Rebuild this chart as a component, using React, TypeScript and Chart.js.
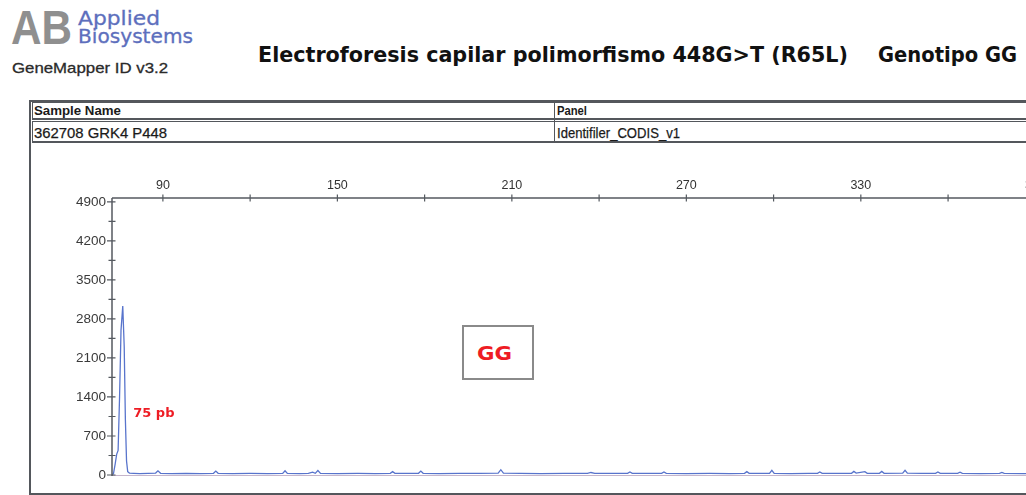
import React, { useEffect, useLayoutEffect, useRef } from "react";
import { Chart, registerables } from "chart.js";

Chart.register(...registerables);

// ---------- data ----------
const sizesBp = [
  72.5, 73.0, 73.6, 74.1, 74.6, 75.1, 75.6, 76.2, 76.7, 77.1, 77.5, 77.9, 78.5, 80, 82, 85, 87.5, 88.3, 89.2,
  93, 98, 103, 107.4, 108.2, 109, 114, 120, 126, 131.2, 132, 132.8, 137, 140, 141.5, 142.4, 143.3, 144.2,
  150, 157, 163, 168.2, 169, 169.8, 174, 177.9, 178.7, 179.5, 185, 192, 199, 205.3, 206.2, 207.1, 213, 220,
  228, 236, 237.2, 238.5, 245, 249.8, 250.6, 251.4, 257, 261.5, 262.3, 263.1, 270, 278, 285, 290, 290.8,
  291.6, 295, 298.6, 299.4, 300.2, 306, 312, 315.1, 315.9, 316.7, 322, 326.8, 327.6, 328.4, 331.4, 332.2,
  336.4, 337.2, 338, 344.4, 345.2, 346, 351, 355.7, 356.5, 357.3, 363.3, 364.1, 364.9, 371, 377.7, 378.5,
  379.3, 386, 393, 400,
];
const rfu = [
  10, 20, 200, 370, 440, 1400, 2600, 3030, 2300, 1000, 250, 60, 35, 30, 25, 30, 35, 75, 30,
  25, 28, 25, 30, 70, 30, 25, 28, 25, 30, 75, 30, 25, 30, 50, 30, 80, 30,
  25, 28, 25, 30, 60, 30, 28, 30, 70, 30, 25, 28, 30, 35, 95, 35, 28, 25,
  28, 30, 45, 30, 28, 30, 55, 30, 28, 30, 55, 30, 25, 28, 25, 30, 60,
  30, 28, 30, 85, 30, 25, 28, 30, 55, 30, 28, 30, 65, 35, 60, 30,
  30, 65, 30, 35, 85, 35, 28, 30, 55, 30, 30, 50, 28, 25, 28, 45,
  28, 25, 28, 25,
];

const xTickValues = [90, 120, 150, 180, 210, 240, 270, 300, 330, 360, 390];
const xTickLabels = ["90", "", "150", "", "210", "", "270", "", "330", "", "390"];
const yTickValues = [0, 350, 700, 1050, 1400, 1750, 2100, 2450, 2800, 3150, 3500, 3850, 4200, 4550, 4900];
const yTickLabels = ["0", "", "700", "", "1400", "", "2100", "", "2800", "", "3500", "", "4200", "", "4900"];

const peakLabel = "75 pb";
const peakLabelSize = 79.8;
const peakLabelRfu = 1095;

const titleMain = "Electroforesis capilar polimorfismo 448G>T (R65L)";
const titleGenotype = "Genotipo GG";
const genotypeBox = "GG";
const sampleHeader = "Sample Name";
const sampleValue = "362708 GRK4 P448";
const panelHeader = "Panel";
const panelValue = "Identifiler_CODIS_v1";

// ---------- helpers ----------
type FitProps = {
  text: string;
  left: number;
  baseline: number;
  width: number;
  size: number;
  family: string;
  weight?: string | number;
  color: string;
  stroke?: string;
};

function FitText({ text, left, baseline, width, size, family, weight = "normal", color, stroke }: FitProps) {
  const ref = useRef<HTMLSpanElement>(null);
  useLayoutEffect(() => {
    const el = ref.current;
    if (!el) return;
    const fit = () => {
      el.style.transform = "none";
      const w = el.getBoundingClientRect().width;
      if (w > 0) el.style.transform = `scaleX(${width / w})`;
    };
    fit();
    if ((document as any).fonts && (document as any).fonts.ready) {
      (document as any).fonts.ready.then(fit);
    }
  }, [text, width, size, family, weight]);
  return (
    <span
      ref={ref}
      style={{
        position: "absolute",
        left,
        top: baseline - 0.846 * size,
        fontFamily: family,
        fontSize: size,
        fontWeight: weight as any,
        lineHeight: `${size}px`,
        color,
        whiteSpace: "nowrap",
        transformOrigin: "0 0",
        WebkitTextStroke: stroke,
      }}
    >
      {text}
    </span>
  );
}

const CANVAS_W = 1080;
const CANVAS_H = 495;
const SANS = '"Liberation Sans", Arial, sans-serif';
const DEJAVU = '"DejaVu Sans", sans-serif';

const axesPlugin = {
  id: "genemapperAxes",
  beforeDatasetsDraw(chart: any) {
    const { ctx, chartArea, scales } = chart;
    const y = scales.y;
    const py = y.getPixelForValue(0);
    ctx.save();
    ctx.strokeStyle = "rgba(150,120,160,0.55)";
    ctx.lineWidth = 1;
    ctx.beginPath();
    ctx.moveTo(chartArea.left, py + 0.5);
    ctx.lineTo(chart.width, py + 0.5);
    ctx.stroke();
    ctx.restore();
  },
  afterDatasetsDraw(chart: any) {
    const { ctx, chartArea, scales } = chart;
    const { left, top, bottom } = chartArea;
    const x = scales.x;
    const y = scales.y;
    ctx.save();
    ctx.strokeStyle = "#555a60";
    ctx.lineWidth = 1.5;
    ctx.beginPath();
    ctx.moveTo(left, top);
    ctx.lineTo(chart.width, top);
    ctx.moveTo(left, top);
    ctx.lineTo(left, bottom + 1);
    ctx.stroke();

    ctx.lineWidth = 1.2;
    ctx.beginPath();
    x.ticks.forEach((t: any) => {
      const px = x.getPixelForValue(t.value);
      ctx.moveTo(px, top - 3.5);
      ctx.lineTo(px, top + 3.5);
    });
    y.ticks.forEach((t: any, i: number) => {
      const pyy = y.getPixelForValue(t.value);
      const major = yTickLabels[i] !== "";
      ctx.moveTo(left - (major ? 5 : 3.5), pyy);
      ctx.lineTo(left + 3.5, pyy);
    });
    ctx.stroke();

    ctx.fillStyle = "#ee1c24";
    ctx.font = `bold 13px ${DEJAVU}`;
    ctx.textAlign = "left";
    ctx.textBaseline = "middle";
    ctx.fillText(peakLabel, x.getPixelForValue(peakLabelSize), y.getPixelForValue(peakLabelRfu));
    ctx.restore();
  },
};

function Electropherogram() {
  const canvasRef = useRef<HTMLCanvasElement>(null);
  useEffect(() => {
    const canvas = canvasRef.current;
    if (!canvas) return;
    const chart = new Chart(canvas, {
      type: "line",
      data: {
        datasets: [
          {
            data: sizesBp.map((s, i) => ({ x: s, y: rfu[i] })),
            borderColor: "#5874cc",
            borderWidth: 1.3,
            pointRadius: 0,
            fill: false,
            tension: 0,
          },
        ],
      },
      options: {
        animation: false,
        responsive: false,
        maintainAspectRatio: false,
        devicePixelRatio: 1,
        layout: { padding: { left: 0, top: 0, right: 15.6, bottom: 20 } },
        plugins: {
          legend: { display: false },
          tooltip: { enabled: false },
          title: { display: false },
        },
        scales: {
          x: {
            type: "linear",
            position: "top",
            min: 72.5,
            max: 400,
            afterFit: (s: any) => {
              s.height = 198;
            },
            afterBuildTicks: (s: any) => {
              s.ticks = xTickValues.map((v) => ({ value: v }));
            },
            ticks: {
              autoSkip: false,
              maxRotation: 0,
              padding: 5,
              color: "#333",
              font: { family: SANS, size: 12.5 },
              callback: (_v: any, i: number) => xTickLabels[i],
            },
            grid: { display: true, drawOnChartArea: false, drawTicks: true, tickLength: 0, color: "rgba(0,0,0,0)" },
            border: { display: false },
          },
          y: {
            type: "linear",
            min: 0,
            max: 4970,
            afterFit: (s: any) => {
              s.width = 112;
            },
            afterBuildTicks: (s: any) => {
              s.ticks = yTickValues.map((v) => ({ value: v }));
            },
            ticks: {
              autoSkip: false,
              padding: 6,
              color: "#3a3a3a",
              font: { family: SANS, size: 13.5 },
              callback: (_v: any, i: number) => yTickLabels[i],
            },
            grid: { display: true, drawOnChartArea: false, drawTicks: true, tickLength: 0, color: "rgba(0,0,0,0)" },
            border: { display: false },
          },
        },
      },
      plugins: [axesPlugin],
    } as any);
    return () => chart.destroy();
  }, []);
  return (
    <canvas
      ref={canvasRef}
      width={CANVAS_W}
      height={CANVAS_H}
      style={{ position: "absolute", left: 0, top: 0, width: CANVAS_W, height: CANVAS_H }}
    />
  );
}

const line = "#54575c";

export default function App() {
  return (
    <div
      style={{
        position: "fixed",
        left: 0,
        top: 0,
        width: 1026,
        height: 495,
        overflow: "hidden",
        background: "#ffffff",
      }}
    >
      {/* logo */}
      <FitText text="AB" left={11} baseline={45} width={61} size={48} family={SANS} weight="bold" color="#8f8f8f" />
      <FitText text="Applied" left={78} baseline={25.5} width={82} size={19} family={DEJAVU} color="#5d6fbd" stroke="0.3px #5d6fbd" />
      <FitText text="Biosystems" left={78} baseline={43.5} width={115} size={19} family={DEJAVU} color="#5d6fbd" stroke="0.3px #5d6fbd" />
      <FitText text="GeneMapper ID v3.2" left={12} baseline={72.5} width={156} size={15} family={SANS} color="#2a2a2a" stroke="0.3px #2a2a2a" />

      {/* title */}
      <FitText text={titleMain} left={258} baseline={63} width={590} size={22} family={DEJAVU} weight="bold" color="#111" />
      <FitText text={titleGenotype} left={878} baseline={63} width={139} size={22} family={DEJAVU} weight="bold" color="#111" />

      {/* frame */}
      <div style={{ position: "absolute", left: 29, top: 100, width: 1100, height: 391, border: `2px solid ${line}` }} />
      <div style={{ position: "absolute", left: 32, top: 102, width: 1100, height: 15, borderTop: `1.5px solid ${line}`, borderLeft: `1.5px solid ${line}`, borderBottom: `2.5px solid ${line}` }} />
      <div style={{ position: "absolute", left: 32, top: 121, width: 1100, height: 19, borderTop: `1.5px solid ${line}`, borderLeft: `1.5px solid ${line}`, borderBottom: `2px solid ${line}` }} />
      <div style={{ position: "absolute", left: 554, top: 102, width: 0, height: 40, borderLeft: `1.5px solid ${line}` }} />

      <FitText text={sampleHeader} left={34} baseline={114.5} width={87} size={13} family={SANS} weight="bold" color="#1a1a1a" />
      <FitText text={panelHeader} left={557} baseline={114.5} width={30} size={13} family={SANS} weight="bold" color="#1a1a1a" />
      <FitText text={sampleValue} left={34} baseline={137.5} width={133} size={15} family={SANS} color="#1a1a1a" stroke="0.25px #1a1a1a" />
      <FitText text={panelValue} left={557} baseline={137.5} width={123} size={15} family={SANS} color="#1a1a1a" stroke="0.25px #1a1a1a" />

      <Electropherogram />

      {/* genotype box */}
      <div
        style={{
          position: "absolute",
          left: 462,
          top: 325,
          width: 68,
          height: 51,
          border: "2px solid #8a8a8a",
          background: "#fff",
        }}
      />
      <FitText text={genotypeBox} left={477} baseline={360} width={35} size={20} family={DEJAVU} weight="bold" color="#ee1c24" />
    </div>
  );
}
